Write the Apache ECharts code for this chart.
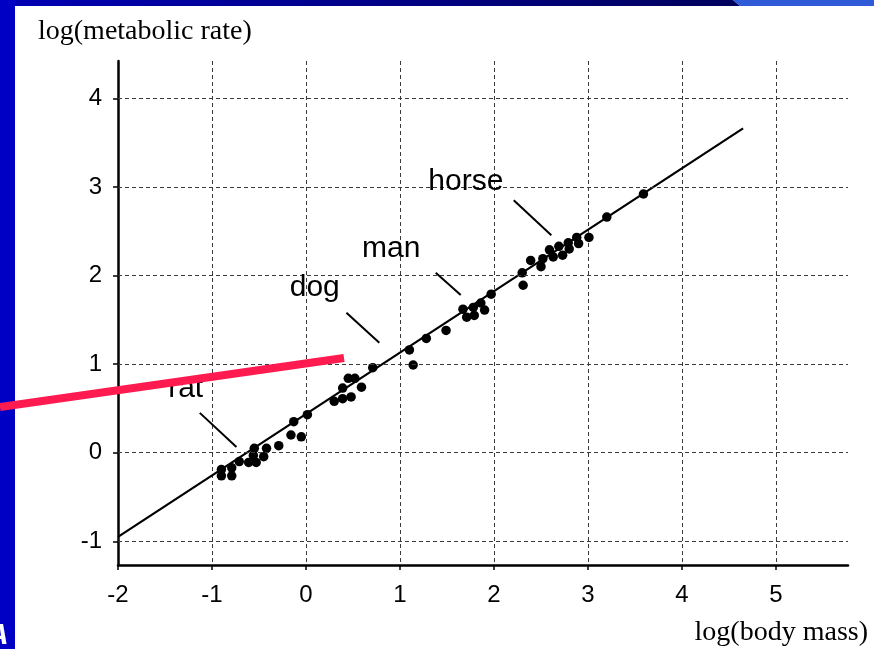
<!DOCTYPE html>
<html>
<head>
<meta charset="utf-8">
<script src="https://cdn.jsdelivr.net/npm/echarts@6/dist/echarts.min.js"></script>
<style>
  html, body { margin: 0; padding: 0; background: #ffffff; }
  #chart { width: 874px; height: 649px; }
</style>
</head>
<body>
<div id="chart"></div>
<script>
// log(body mass) vs log(metabolic rate) for mammals
const bodyMass = [
  -0.90, -0.90, -0.79, -0.79, -0.71, -0.61, -0.53, -0.55, -0.56, -0.45,
  -0.42, -0.29, -0.16, -0.05, -0.13, 0.015, 0.30, 0.39, 0.48, 0.59,
  0.39, 0.45, 0.52, 0.71, 1.10, 1.14, 1.28, 1.49, 1.67, 1.71,
  1.78, 1.79, 1.86, 1.90, 1.97, 2.30, 2.31, 2.39, 2.50, 2.52,
  2.59, 2.63, 2.69, 2.73, 2.79, 2.80, 2.88, 2.90, 3.01, 3.20, 3.59
];
const metabolicRate = [
  -0.19, -0.26, -0.17, -0.26, -0.10, -0.11, -0.11, 0.05, -0.03, -0.045,
  0.05, 0.08, 0.20, 0.18, 0.35, 0.43, 0.58, 0.61, 0.63, 0.74,
  0.73, 0.84, 0.84, 0.96, 1.16, 0.99, 1.29, 1.38, 1.62, 1.53,
  1.64, 1.55, 1.69, 1.61, 1.79, 2.03, 1.89, 2.17, 2.10, 2.19,
  2.29, 2.21, 2.33, 2.23, 2.37, 2.30, 2.43, 2.36, 2.43, 2.66, 2.92
];

// regression line end points
const fitX = [-2, 4.65];
const fitY = [-0.95, 3.66];

// animal names and where they sit
const animalNames = ['horse', 'man', 'dog', 'rat'];
const animalLabelX = [1.70, 0.906, 0.093, -1.28];
const animalLabelY = [3.064, 2.30, 1.86, 0.72];
// pointer strokes from the names towards the points
const pointerFrom = [[2.21, 2.85], [1.38, 2.03], [0.43, 1.58], [-1.13, 0.45]];
const pointerTo = [[2.61, 2.455], [1.646, 1.78], [0.78, 1.24], [-0.74, 0.065]];

const xTicks = [-2, -1, 0, 1, 2, 3, 4, 5];
const yTicks = [-1, 0, 1, 2, 3, 4];

const sans = "'Liberation Sans', Arial, Helvetica, sans-serif";
const serif = "'Liberation Serif', 'Times New Roman', serif";

const chart = echarts.init(document.getElementById('chart'), null, { renderer: 'canvas' });

const dash = { color: '#3a3a3a', width: 1, type: [4, 3] };

chart.setOption({
  backgroundColor: '#ffffff',
  animation: false,
  grid: { left: 118, right: 26, top: 61, bottom: 84, containLabel: false },
  xAxis: {
    type: 'value',
    min: -2,
    max: 5.766,
    interval: 1,
    axisLine: { show: true, onZero: false, lineStyle: { color: '#000', width: 2.5 } },
    axisTick: { show: true, length: 5, customValues: xTicks, lineStyle: { color: '#000', width: 1.5 } },
    axisLabel: {
      margin: 18,
      fontFamily: sans,
      fontSize: 24,
      color: '#000',
      customValues: xTicks
    },
    splitLine: { show: true, showMinLine: false, showMaxLine: true, lineStyle: dash }
  },
  yAxis: {
    type: 'value',
    min: -1.267,
    max: 4.421,
    axisLine: { show: true, onZero: false, lineStyle: { color: '#000', width: 2.5 } },
    axisTick: { show: true, length: 5, customValues: yTicks, lineStyle: { color: '#000', width: 1.5 } },
    axisLabel: {
      margin: 16,
      fontFamily: sans,
      fontSize: 24,
      color: '#000',
      customValues: yTicks
    },
    splitLine: { show: false }
  },
  series: [
    {
      // horizontal grid lines at the labelled values
      type: 'line',
      data: [],
      silent: true,
      markLine: {
        silent: true,
        symbol: 'none',
        label: { show: false },
        lineStyle: dash,
        data: yTicks.map(v => ({ yAxis: v }))
      }
    },
    {
      type: 'line',
      data: fitX.map((x, i) => [x, fitY[i]]),
      symbol: 'none',
      lineStyle: { color: '#000', width: 2.2 },
      z: 3
    },
    {
      type: 'scatter',
      data: bodyMass.map((x, i) => [x, metabolicRate[i]]),
      symbol: 'circle',
      symbolSize: 9.5,
      itemStyle: { color: '#000', opacity: 1 },
      z: 4
    },
    {
      type: 'lines',
      coordinateSystem: 'cartesian2d',
      polyline: false,
      data: pointerFrom.map((p, i) => ({ coords: [p, pointerTo[i]] })),
      lineStyle: { color: '#000', width: 2, opacity: 1 },
      z: 3
    },
    {
      type: 'scatter',
      data: animalNames.map((n, i) => ({ name: n, value: [animalLabelX[i], animalLabelY[i]] })),
      symbolSize: 0,
      itemStyle: { opacity: 1 },
      label: {
        show: true,
        position: 'inside',
        formatter: p => p.name,
        fontFamily: sans,
        fontSize: 30,
        color: '#000',
        opacity: 1,
        align: 'center',
        verticalAlign: 'middle'
      },
      z: 5
    }
  ],
  graphic: [
    // slide frame
    {
      type: 'polygon', z: 100,
      shape: { points: [[0, 0], [733, 0], [740, 6], [0, 6]] },
      style: {
        fill: new echarts.graphic.LinearGradient(0, 0, 1, 0, [
          { offset: 0, color: '#0000b4' },
          { offset: 1, color: '#00005c' }
        ])
      }
    },
    {
      type: 'polygon', z: 100,
      shape: { points: [[733, 0], [874, 0], [874, 6], [740, 6]] },
      style: { fill: '#2f5bd9' }
    },
    { type: 'rect', z: 100, shape: { x: 0, y: 0, width: 15, height: 649 }, style: { fill: '#0000c4' } },
    {
      type: 'text', z: 101, left: -13, top: 621,
      style: { text: 'A', fill: '#ffffff', font: "italic bold 30px 'Liberation Sans', Arial, sans-serif" }
    },
    // axis captions
    {
      type: 'text', z: 10, left: 38, top: 18,
      style: { text: 'log(metabolic rate)', fill: '#000', font: "28px " + serif }
    },
    {
      type: 'text', z: 10, right: 6, top: 619,
      style: { text: 'log(body mass)', fill: '#000', font: "28px " + serif }
    },
    // red pointer stroke
    {
      type: 'line', z: 120,
      shape: { x1: 0, y1: 407, x2: 344, y2: 358 },
      style: { stroke: '#ff1a4f', lineWidth: 8, lineCap: 'butt' }
    }
  ]
});
</script>
</body>
</html>
